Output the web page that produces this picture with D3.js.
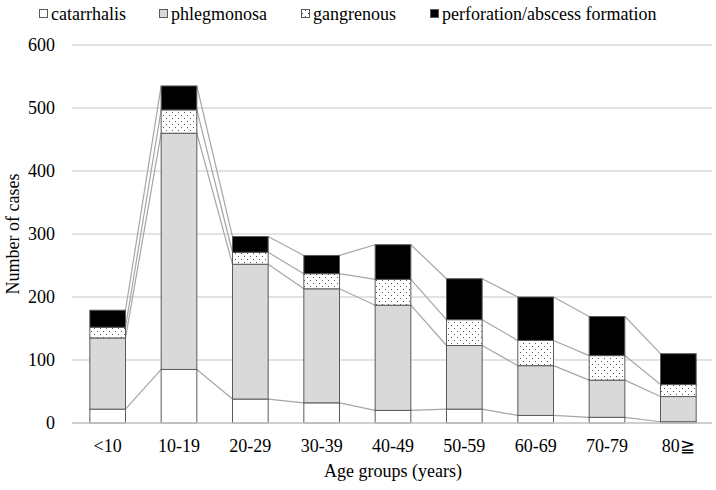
<!DOCTYPE html>
<html>
<head>
<meta charset="utf-8">
<script src="https://cdn.jsdelivr.net/npm/d3@7"></script>
</head>
<body style="margin:0;background:#fff;font-family:'Times New Roman','Liberation Serif',serif">
<div id="chart" style="position:relative;width:716px;height:490px;font-family:'Times New Roman','Liberation Serif',serif"></div>
<script>
var ageGroups, seriesNames, catarrhalis, phlegmonosa, gangrenous, perforation, yTicks;

ageGroups = ['<10', '10-19', '20-29', '30-39', '40-49', '50-59', '60-69', '70-79', '80\u2267'];
seriesNames = ['catarrhalis', 'phlegmonosa', 'gangrenous', 'perforation/abscess formation'];
catarrhalis = [22, 85, 38, 32, 20, 22, 12, 9, 2];
phlegmonosa = [113, 375, 214, 181, 167, 101, 79, 59, 40];
gangrenous = [17, 37, 19, 24, 41, 41, 40, 39, 19];
perforation = [27, 38, 25, 29, 55, 65, 69, 62, 49];
yTicks = [0, 100, 200, 300, 400, 500, 600];

var W = 716, H = 490;
var M = { left: 72, right: 2, top: 45, bottom: 67 };

var chart = d3.select('#chart');
var svg = chart.append('svg')
  .attr('width', W)
  .attr('height', H)
  .attr('font-family', 'Times New Roman, Liberation Serif, serif')
  .attr('font-size', 18);

// dotted fill for gangrenous
var pat = svg.append('defs').append('pattern')
  .attr('id', 'dots')
  .attr('patternUnits', 'userSpaceOnUse')
  .attr('width', 6)
  .attr('height', 6);
pat.append('rect').attr('width', 6).attr('height', 6).attr('fill', '#fff');
pat.append('rect').attr('x', 1).attr('y', 1).attr('width', 1).attr('height', 1).attr('fill', '#555');
pat.append('rect').attr('x', 4).attr('y', 4).attr('width', 1).attr('height', 1).attr('fill', '#555');

var fills = ['#ffffff', '#d9d9d9', 'url(#dots)', '#000000'];

var x = d3.scaleBand()
  .domain(ageGroups)
  .range([M.left, W - M.right])
  .paddingInner(0.5)
  .paddingOuter(0.25);

var y = d3.scaleLinear()
  .domain([0, 600])
  .range([H - M.bottom, M.top]);

// gridlines
svg.append('g')
  .selectAll('line')
  .data(yTicks)
  .enter()
  .append('line')
  .attr('x1', M.left)
  .attr('x2', W - 4)
  .attr('y1', function(d) { return y(d); })
  .attr('y2', function(d) { return y(d); })
  .attr('stroke', '#c8c8c8')
  .attr('stroke-width', 1.2);

// y tick labels
svg.append('g')
  .selectAll('text')
  .data(yTicks)
  .enter()
  .append('text')
  .attr('x', 55)
  .attr('y', function(d) { return y(d) + 6; })
  .attr('text-anchor', 'end')
  .text(function(d) { return d; });

// stack data
var rows = ageGroups.map(function(g, i) {
  return {
    group: g,
    catarrhalis: catarrhalis[i],
    phlegmonosa: phlegmonosa[i],
    gangrenous: gangrenous[i],
    perforation: perforation[i]
  };
});
var keys = ['catarrhalis', 'phlegmonosa', 'gangrenous', 'perforation'];
var stacked = d3.stack().keys(keys)(rows);

// series connector lines (top of each segment, bar to bar)
var conn = svg.append('g');
stacked.forEach(function(layer) {
  for (var i = 0; i < layer.length - 1; i++) {
    conn.append('line')
      .attr('x1', x(ageGroups[i]) + x.bandwidth())
      .attr('y1', y(layer[i][1]))
      .attr('x2', x(ageGroups[i + 1]))
      .attr('y2', y(layer[i + 1][1]))
      .attr('stroke', '#a6a6a6')
      .attr('stroke-width', 1.2);
  }
});

// bars
var layers = svg.append('g')
  .selectAll('g')
  .data(stacked)
  .enter()
  .append('g')
  .attr('fill', function(d, i) { return fills[i]; });

layers.selectAll('rect')
  .data(function(d) { return d; })
  .enter()
  .append('rect')
  .attr('x', function(d) { return x(d.data.group); })
  .attr('y', function(d) { return y(d[1]); })
  .attr('width', x.bandwidth())
  .attr('height', function(d) { return y(d[0]) - y(d[1]); })
  .attr('stroke', '#5a5a5a')
  .attr('stroke-width', 1);

// x axis baseline
svg.append('line')
  .attr('x1', M.left)
  .attr('x2', W - 4)
  .attr('y1', y(0))
  .attr('y2', y(0))
  .attr('stroke', '#c8c8c8')
  .attr('stroke-width', 1.5);

// x tick labels
svg.append('g')
  .selectAll('text')
  .data(ageGroups)
  .enter()
  .append('text')
  .attr('x', function(d) { return x(d) + x.bandwidth() / 2; })
  .attr('y', 452)
  .attr('text-anchor', 'middle')
  .text(function(d) { return d; });

// axis titles
svg.append('text')
  .attr('x', 393)
  .attr('y', 477)
  .attr('text-anchor', 'middle')
  .text('Age groups (years)');

svg.append('text')
  .attr('transform', 'translate(19,234) rotate(-90)')
  .attr('text-anchor', 'middle')
  .text('Number of cases');

// legend
var legendX = [39, 159, 301, 430];
var legend = svg.append('g')
  .selectAll('g')
  .data(seriesNames)
  .enter()
  .append('g')
  .attr('transform', function(d, i) { return 'translate(' + legendX[i] + ',0)'; });

legend.append('rect')
  .attr('x', 0.5)
  .attr('y', 9.5)
  .attr('width', 8)
  .attr('height', 8)
  .attr('fill', function(d, i) { return fills[i]; })
  .attr('stroke', '#5a5a5a')
  .attr('stroke-width', 1);

legend.append('text')
  .attr('x', 12)
  .attr('y', 20)
  .text(function(d) { return d; });
</script>
</body>
</html>
